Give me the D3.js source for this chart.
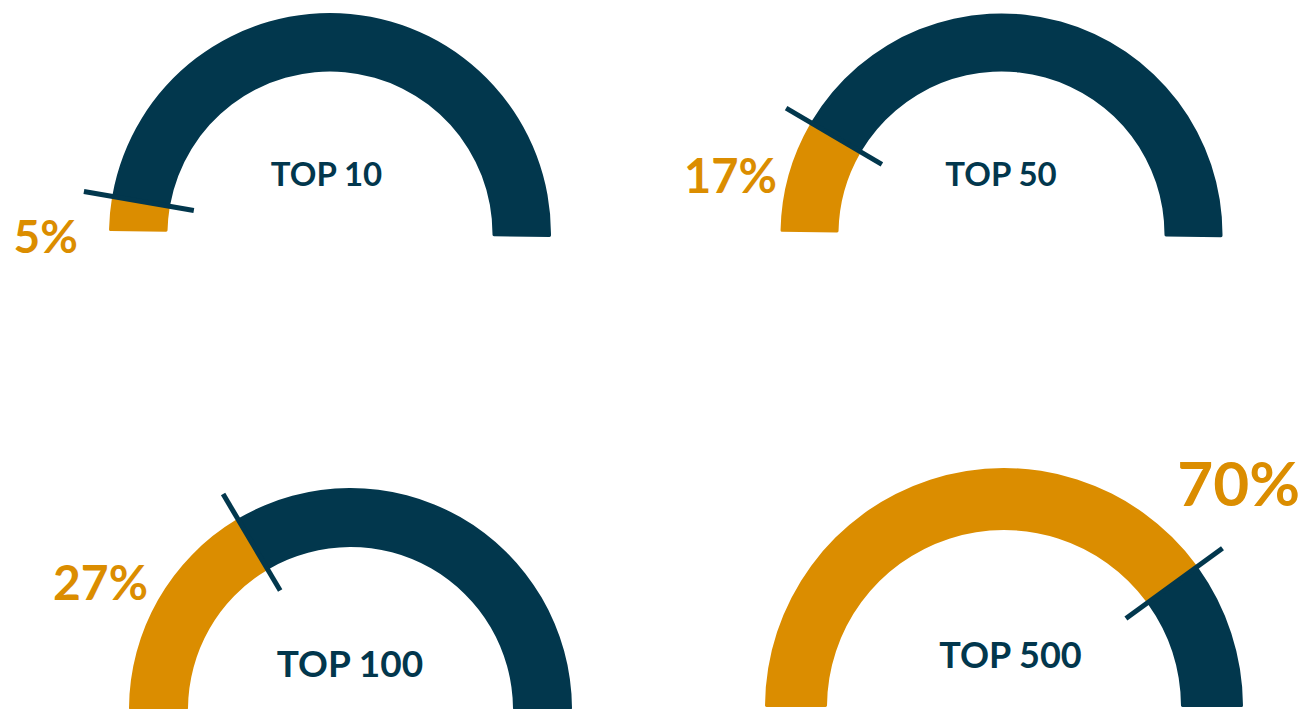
<!DOCTYPE html>
<html>
<head>
<meta charset="utf-8">
<script src="https://cdn.jsdelivr.net/npm/d3@7"></script>
<style>
  html, body { margin: 0; padding: 0; background: #fff; }
  svg { display: block; }
  text { font-family: Lato, "Open Sans", sans-serif; font-weight: 700; }
</style>
</head>
<body>
<div id="chart"></div>
<script>
// gauge titles, printed percentages, and the filled share of each arc as drawn (%)
const titles = ['TOP 10', 'TOP 50', 'TOP 100', 'TOP 500']
const labels = [5, 17, 27, 70]
const shares = [5, 16.5, 33, 80]

const ORANGE = '#db8d00'
const NAVY = '#02374d'

const W = 1306, H = 709

// layout of each gauge: centre, radii, tilt, where the texts go
const layout = [
  { cx: 330, cy: 234, ro: 221, ri: 162.5, tilt: 0.8,
    title: { x: 326.5, y: 186, size: 33 },
    pct: { x: 78, y: 253, size: 46 } },
  { cx: 1001.5, cy: 234.5, ro: 221, ri: 163, tilt: 0.7,
    title: { x: 1001, y: 186, size: 33 },
    pct: { x: 777, y: 193, size: 47 } },
  { cx: 350.5, cy: 709.5, ro: 221.5, ri: 162.5, tilt: 0,
    title: { x: 350, y: 677, size: 37 },
    pct: { x: 148, y: 600, size: 48 } },
  { cx: 1004, cy: 707, ro: 239, ri: 177, tilt: 0,
    title: { x: 1010.5, y: 668, size: 36 },
    pct: { x: 1300, y: 506, size: 62 } }
]

const svg = d3.select('#chart').append('svg')
    .attr('width', W)
    .attr('height', H)

// value (0-100) -> angle along the half circle, left end to right end
const angle = d3.scaleLinear()
    .domain([0, 100])
    .range([-Math.PI / 2, Math.PI / 2])

titles.forEach((title, i) => {
  const L = layout[i]
  const g = svg.append('g')
      .attr('transform', `translate(${L.cx},${L.cy}) rotate(${L.tilt})`)

  const arc = d3.arc()
      .innerRadius(L.ri)
      .outerRadius(L.ro)
      .cornerRadius(1.5)

  g.append('path')
      .attr('d', arc({ startAngle: angle(shares[i]), endAngle: angle(100) }))
      .attr('fill', NAVY)

  g.append('path')
      .attr('d', arc({ startAngle: angle(0), endAngle: angle(shares[i]) }))
      .attr('fill', ORANGE)

  // tick across the arc at the boundary
  const a = angle(shares[i])
  const r0 = L.ri - 0.11 * L.ro
  const r1 = L.ro * 1.13
  g.append('line')
      .attr('x1', r0 * Math.sin(a))
      .attr('y1', -r0 * Math.cos(a))
      .attr('x2', r1 * Math.sin(a))
      .attr('y2', -r1 * Math.cos(a))
      .attr('stroke', NAVY)
      .attr('stroke-width', 5)

  svg.append('text')
      .attr('x', L.title.x)
      .attr('y', L.title.y)
      .attr('text-anchor', 'middle')
      .attr('font-size', L.title.size)
      .attr('fill', NAVY)
      .text(title)

  svg.append('text')
      .attr('x', L.pct.x)
      .attr('y', L.pct.y)
      .attr('text-anchor', 'end')
      .attr('font-size', L.pct.size)
      .attr('fill', ORANGE)
      .text(labels[i] + '%')
})
</script>
</body>
</html>
